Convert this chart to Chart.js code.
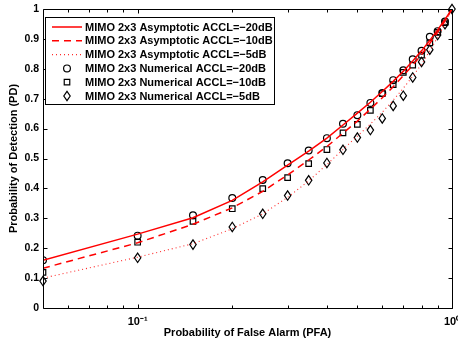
<!DOCTYPE html>
<html>
<head>
<meta charset="utf-8">
<script src="https://cdn.jsdelivr.net/npm/chart.js@4/dist/chart.umd.min.js"></script>
<style>
  html, body { margin: 0; padding: 0; background: #fff; }
  #wrap { width: 458px; height: 346px; }
</style>
</head>
<body>
<div id="wrap"><canvas id="c" width="458" height="346"></canvas></div>
<script>
// Probability of false alarm (x) and probability of detection (y) for MIMO 2x3
const pfa = [0.05, 0.10, 0.15, 0.20, 0.25, 0.30, 0.35, 0.40, 0.45, 0.50,
             0.55, 0.60, 0.65, 0.70, 0.75, 0.80, 0.85, 0.90, 0.95, 1.00];

// Asymptotic curves
const asym20 = [0.160, 0.247, 0.302, 0.360, 0.422, 0.478, 0.525, 0.568, 0.612, 0.652,
                0.688, 0.724, 0.758, 0.792, 0.826, 0.860, 0.895, 0.930, 0.965, 1.000];
const asym10 = [0.133, 0.218, 0.280, 0.335, 0.390, 0.445, 0.495, 0.540, 0.585, 0.625,
                0.665, 0.703, 0.740, 0.777, 0.812, 0.848, 0.885, 0.922, 0.960, 1.000];
const asym5  = [0.100, 0.170, 0.215, 0.265, 0.315, 0.370, 0.425, 0.480, 0.530, 0.575,
                0.615, 0.655, 0.695, 0.735, 0.775, 0.815, 0.860, 0.905, 0.952, 1.000];

// Numerical results
const num20 = [0.160, 0.242, 0.310, 0.368, 0.428, 0.484, 0.527, 0.568, 0.616, 0.645,
               0.686, 0.719, 0.762, 0.795, 0.832, 0.860, 0.907, 0.926, 0.958, 1.000];
const num10 = [0.119, 0.220, 0.290, 0.332, 0.399, 0.436, 0.483, 0.530, 0.586, 0.614,
               0.661, 0.717, 0.747, 0.788, 0.812, 0.846, 0.887, 0.922, 0.954, 1.000];
const num5  = [0.090, 0.168, 0.212, 0.271, 0.315, 0.376, 0.427, 0.485, 0.529, 0.570,
               0.595, 0.634, 0.676, 0.710, 0.771, 0.823, 0.864, 0.913, 0.949, 1.000];

const seriesNames = [
  'MIMO 2x3 Asymptotic ACCL=\u221220dB',
  'MIMO 2x3 Asymptotic ACCL=\u221210dB',
  'MIMO 2x3 Asymptotic ACCL=\u22125dB',
  'MIMO 2x3 Numerical ACCL=\u221220dB',
  'MIMO 2x3 Numerical ACCL=\u221210dB',
  'MIMO 2x3 Numerical ACCL=\u22125dB'
];

const xMajorTicks = [0.1, 1];
const xTickLabels = ['10\u207B\u00B9', '10\u2070'];
const xMinorTicks = [0.06, 0.07, 0.08, 0.09, 0.2, 0.3, 0.4, 0.5, 0.6, 0.7, 0.8, 0.9];
const yTicks = [0, 0.1, 0.2, 0.3, 0.4, 0.5, 0.6, 0.7, 0.8, 0.9, 1];

const FONT = '"Liberation Sans", Arial, Helvetica, sans-serif';

const pts = arr => arr.map((v, i) => ({ x: pfa[i], y: v }));

// tall, narrow diamond glyph
function drawDiamond(ctx, x, y) {
  ctx.beginPath();
  ctx.moveTo(x, y - 4.7);
  ctx.lineTo(x + 3.2, y);
  ctx.lineTo(x, y + 4.7);
  ctx.lineTo(x - 3.2, y);
  ctx.closePath();
  ctx.stroke();
}

const lineDs = (label, data, dash, width, color) => ({
  label, data: pts(data), showLine: true, borderColor: color, borderWidth: width,
  borderDash: dash, pointRadius: 0, fill: false, tension: 0, order: 1
});
const markDs = (label, data, style, radius) => ({
  label, data: pts(data), showLine: false, pointStyle: style, pointRadius: radius,
  pointBorderColor: '#000', pointBackgroundColor: 'rgba(0,0,0,0)', pointBorderWidth: 1.2,
  borderColor: '#000', backgroundColor: 'rgba(0,0,0,0)', order: 2
});

const datasets = [
  lineDs(seriesNames[0], asym20, [], 1.5, '#ff0000'),
  lineDs(seriesNames[1], asym10, [7, 5], 1.5, '#ff0000'),
  lineDs(seriesNames[2], asym5, [1, 3], 1.1, '#ff2a2a'),
  markDs(seriesNames[3], num20, 'circle', 3.4),
  markDs(seriesNames[4], num10, 'rect', 3.9),
  Object.assign(markDs(seriesNames[5], num5, 'rectRot', 4), { markerShape: 'diamond' })
];

// draws the diamond series with a narrow glyph at the points laid out by the scales
const narrowDiamond = {
  id: 'narrowDiamond',
  beforeDatasetDraw(chart, args) {
    const ds = chart.data.datasets[args.index];
    if (ds.markerShape !== 'diamond') return;
    const ctx = chart.ctx;
    ctx.save();
    ctx.strokeStyle = '#000';
    ctx.lineWidth = ds.pointBorderWidth;
    args.meta.data.forEach(pt => drawDiamond(ctx, pt.x, pt.y));
    ctx.restore();
    return false;
  }
};

// axes box with inward ticks on all four sides
const frame = {
  id: 'frame',
  afterDatasetsDraw(chart) {
    const { ctx, chartArea: a, scales: { x, y } } = chart;
    ctx.save();
    ctx.strokeStyle = '#000';
    ctx.lineWidth = 1;
    ctx.beginPath();
    const L = Math.round(a.left) + 0.5, R = Math.round(a.right) + 0.5;
    const T = Math.round(a.top) + 0.5, B = Math.round(a.bottom) + 0.5;
    ctx.rect(L, T, R - L, B - T);
    xMajorTicks.concat(xMinorTicks).forEach(v => {
      const px = Math.round(x.getPixelForValue(v)) + 0.5;
      const len = xMajorTicks.includes(v) ? 4 : 3;
      ctx.moveTo(px, B); ctx.lineTo(px, B - len);
      ctx.moveTo(px, T); ctx.lineTo(px, T + len);
    });
    yTicks.forEach(v => {
      const py = Math.round(y.getPixelForValue(v)) + 0.5;
      ctx.moveTo(L, py); ctx.lineTo(L + 4, py);
      ctx.moveTo(R, py); ctx.lineTo(R - 4, py);
    });
    ctx.stroke();
    ctx.restore();
  }
};

// boxed legend in the upper-left corner of the plot
const boxLegend = {
  id: 'boxLegend',
  afterDraw(chart) {
    const { ctx } = chart;
    const bx = 45, by = 17, bw = 229, bh = 87;
    const rowY0 = 27, rowDy = 13.8;
    ctx.save();
    ctx.fillStyle = '#fff';
    ctx.fillRect(bx, by, bw, bh);
    ctx.strokeStyle = '#000';
    ctx.lineWidth = 1;
    ctx.strokeRect(bx + 0.5, by + 0.5, bw, bh);
    chart.data.datasets.forEach((ds, i) => {
      const ry = rowY0 + i * rowDy;
      ctx.save();
      if (ds.showLine) {
        ctx.strokeStyle = ds.borderColor;
        ctx.lineWidth = ds.borderWidth;
        ctx.setLineDash(ds.borderDash || []);
        ctx.beginPath();
        ctx.moveTo(52, ry);
        ctx.lineTo(82, ry);
        ctx.stroke();
      } else if (ds.markerShape === 'diamond') {
        ctx.strokeStyle = '#000';
        ctx.lineWidth = ds.pointBorderWidth;
        drawDiamond(ctx, 67, ry);
      } else {
        ctx.strokeStyle = '#000';
        ctx.fillStyle = 'rgba(0,0,0,0)';
        ctx.lineWidth = ds.pointBorderWidth;
        Chart.helpers.drawPoint(ctx, {
          pointStyle: ds.pointStyle, radius: ds.pointRadius, rotation: 0, borderWidth: ds.pointBorderWidth
        }, 67, ry);
      }
      ctx.restore();
      ctx.fillStyle = '#000';
      ctx.font = 'bold 11px ' + FONT;
      ctx.textBaseline = 'middle';
      ctx.textAlign = 'left';
      ctx.fillText(ds.label, 85, ry + 0.5);
    });
    ctx.restore();
  }
};

new Chart(document.getElementById('c'), {
  type: 'scatter',
  data: { datasets },
  options: {
    responsive: false,
    animation: false,
    devicePixelRatio: 1,
    layout: { padding: { left: 7, right: 6, top: 9, bottom: 6 } },
    plugins: { legend: { display: false }, tooltip: { enabled: false } },
    scales: {
      x: {
        type: 'logarithmic',
        min: 0.05,
        max: 1,
        grid: { display: false, drawTicks: false },
        border: { display: false },
        afterBuildTicks(scale) {
          scale.ticks = xMajorTicks.map(v => ({ value: v }));
        },
        afterFit(scale) {
          scale.height = 32;
          scale.paddingLeft = 0;
          scale.paddingRight = 0;
        },
        ticks: {
          autoSkip: false,
          maxRotation: 0,
          padding: 7,
          color: '#000',
          font: { family: FONT, size: 11, weight: 'bold' },
          callback(v) {
            const i = xMajorTicks.indexOf(v);
            return i >= 0 ? xTickLabels[i] : '';
          }
        },
        title: {
          display: true,
          text: 'Probability of False Alarm (PFA)',
          color: '#000',
          font: { family: FONT, size: 11, weight: 'bold' },
          padding: { top: 0, bottom: 0 }
        }
      },
      y: {
        type: 'linear',
        min: 0,
        max: 1,
        grid: { display: false, drawTicks: false },
        border: { display: false },
        afterBuildTicks(scale) {
          scale.ticks = yTicks.map(v => ({ value: v }));
        },
        afterFit(scale) {
          scale.width = 36;
          scale.paddingTop = 0;
          scale.paddingBottom = 0;
        },
        ticks: {
          padding: 4,
          color: '#000',
          font: { family: FONT, size: 10.5, weight: 'bold' },
          callback(v) { return String(Number(v.toFixed(1))); }
        },
        title: {
          display: true,
          text: 'Probability of Detection (PD)',
          color: '#000',
          font: { family: FONT, size: 11, weight: 'bold' },
          padding: { top: 0, bottom: 0 }
        }
      }
    }
  },
  plugins: [narrowDiamond, frame, boxLegend]
});
</script>
</body>
</html>
